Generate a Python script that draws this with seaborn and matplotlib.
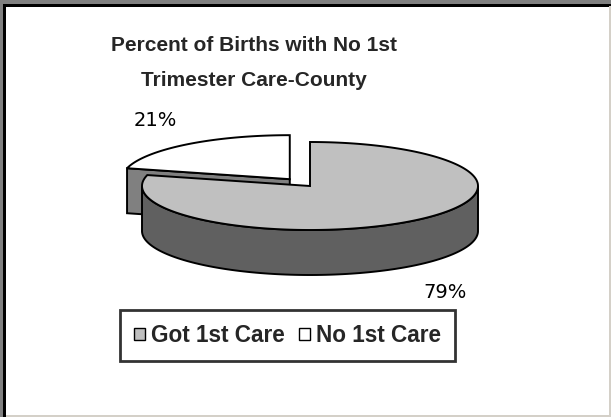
import numpy as np
import matplotlib
matplotlib.use('Agg')
import matplotlib.pyplot as plt
import seaborn as sns
from matplotlib.patches import Polygon, Rectangle, Patch

# chart data
labels = ['Got 1st Care', 'No 1st Care']
values = [79, 21]
pct_text = ['79%', '21%']
top_colors = ['#C0C0C0', '#FFFFFF']
side_colors = ['#606060', '#808080']
explode = [0, 1]
title = 'Percent of Births with No 1st\nTrimester Care-County'

sns.set_theme(style='white')
plt.rcParams['font.family'] = ['DejaVu Sans']

fig = plt.figure(figsize=(6.11, 4.17), dpi=100)
ax = fig.add_axes([0, 0, 1, 1])
ax.set_xlim(0, 611)
ax.set_ylim(417, 0)
ax.axis('off')

# 3d pie geometry (pixel space)
cx, cy = 310, 186
rx, ry, depth = 168, 44, 45
shift = 33
lw = 1.4


def arc(c, a_from, a_to, dy=0, n=120):
    a = np.radians(np.linspace(a_from, a_to, n))
    return np.column_stack([c[0] + rx * np.cos(a), c[1] - ry * np.sin(a) + dy])


# slice angles, clockwise from 12 o'clock
starts = 90 - np.concatenate([[0], np.cumsum(values)[:-1]]) * 3.6
ends = starts - np.array(values) * 3.6
mids = (starts + ends) / 2

centers = []
for i in range(len(values)):
    m = np.radians(mids[i])
    d = shift * explode[i]
    centers.append((cx + d * np.cos(m), cy - d * np.sin(m) * ry / rx))

# back slices first
order = np.argsort(-np.sin(np.radians(mids)))
for i in order:
    c = centers[i]
    a0, a1 = starts[i], ends[i]
    # flat radial faces that look towards the viewer
    for a, nrm in [(a0, a0 + 90), (a1, a1 - 90)]:
        if np.sin(np.radians(nrm)) < -1e-6:
            p = arc(c, a, a, n=1)[0]
            quad = [c, p, (p[0], p[1] + depth), (c[0], c[1] + depth)]
            ax.add_patch(Polygon(quad, closed=True, fc=side_colors[i], ec='black', lw=lw))
    # curved outer side, front half only
    angs = np.linspace(a1, a0, 400)
    front = angs[np.sin(np.radians(angs)) <= 0]
    if len(front) > 1:
        top = arc(c, front[0], front[-1])
        bot = arc(c, front[-1], front[0], dy=depth)
        ax.add_patch(Polygon(np.vstack([top, bot]), closed=True,
                             fc=side_colors[i], ec='black', lw=lw))
    # top face
    pts = np.vstack([[c], arc(c, a0, a1, n=300)])
    ax.add_patch(Polygon(pts, closed=True, fc=top_colors[i], ec='black', lw=lw))

# percentage labels
for i in range(len(values)):
    m = np.radians(mids[i])
    c = centers[i]
    lx = c[0] + 1.31 * rx * np.cos(m)
    ly = c[1] - 1.26 * (ry + 15) * np.sin(m) + (depth * 1.07 if np.sin(m) < 0 else 0)
    ax.text(lx, ly, pct_text[i], ha='center', va='center', fontsize=14, color='black')

# title
ax.text(254, 63, title, ha='center', va='center', fontsize=15, fontweight='bold',
        family='Liberation Sans', linespacing=2.05)

# legend
handles = [Patch(fc=top_colors[i], ec='black', lw=1) for i in range(len(values))]
leg = ax.legend(handles, labels, loc='center', ncol=2,
                bbox_to_anchor=(287.5 / 611, 1 - 335.5 / 417),
                prop={'family': 'Liberation Sans', 'weight': 'bold', 'size': 16.3},
                frameon=True, fancybox=False, handlelength=0.5, handleheight=0.5,
                handletextpad=0.27, columnspacing=0.6, borderpad=0.6)
leg.get_frame().set_edgecolor('black')
leg.get_frame().set_linewidth(2)

# chart area frame
ax.add_patch(Rectangle((0, 0), 611, 4, fc='#808080', ec='none'))
ax.add_patch(Rectangle((0, 0), 3, 417, fc='#808080', ec='none'))
ax.add_patch(Rectangle((3, 4), 608, 2.5, fc='black', ec='none'))
ax.add_patch(Rectangle((3, 4), 3, 413, fc='black', ec='none'))
ax.add_patch(Rectangle((608.5, 6), 2.5, 411, fc='#D4D0C8', ec='none'))
ax.add_patch(Rectangle((6, 414.5), 605, 2.5, fc='#D4D0C8', ec='none'))

fig.savefig('out.png', dpi=100)
